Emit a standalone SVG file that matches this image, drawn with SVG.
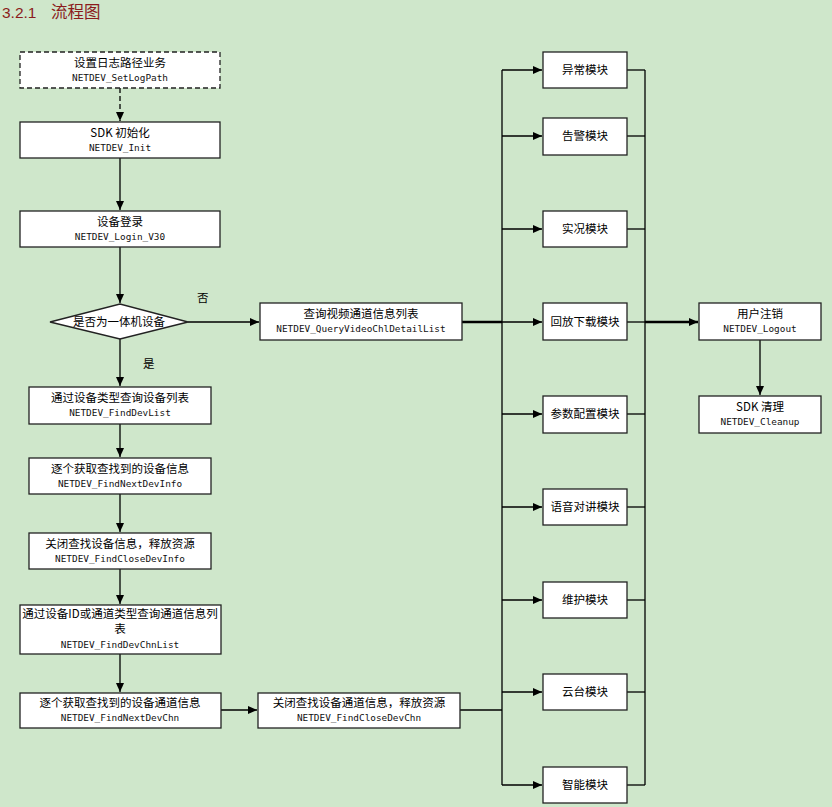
<svg xmlns="http://www.w3.org/2000/svg" width="832" height="807" viewBox="0 0 832 807">
<defs>
<marker id="ah" markerWidth="10" markerHeight="10" refX="9" refY="5" orient="auto" markerUnits="userSpaceOnUse">
<path d="M0,1 L9,5 L0,9 Z" fill="#000"/>
</marker>
<style>
.box{fill:#fff;stroke:#222;stroke-width:1.3}
.dash{stroke-dasharray:5,3}
.cn{font-family:"Noto Sans CJK SC","Noto Sans",sans-serif;font-size:11.5px;fill:#000;text-anchor:middle}
.code{font-family:"DejaVu Sans Mono","Liberation Mono",monospace;font-size:9.4px;fill:#111;text-anchor:middle}
.ln{fill:none;stroke:#000;stroke-width:1.3}
.thk{fill:none;stroke:#000;stroke-width:2.4}
.lbl{font-family:"Noto Sans CJK SC","Noto Sans",sans-serif;font-size:11.5px;fill:#000}
</style>
</defs>
<rect width="832" height="807" fill="#cfe7cb"/>
<g id="title">
<text x="2" y="18" font-family="Liberation Sans,sans-serif" font-size="15.5" fill="#8b1c1c">3.2.1</text>
<text x="51" y="18" font-family="Noto Sans CJK SC,sans-serif" font-size="16.5" fill="#8b1c1c">流程图</text>
</g>
<g id="connectors">
<line class="ln dash" x1="120" y1="88" x2="120" y2="121" marker-end="url(#ah)"/>
<line class="ln" x1="120" y1="158" x2="120" y2="210" marker-end="url(#ah)"/>
<line class="ln" x1="120" y1="247" x2="120" y2="303" marker-end="url(#ah)"/>
<line class="ln" x1="188" y1="322" x2="259" y2="322" marker-end="url(#ah)"/>
<line class="ln" x1="120" y1="339" x2="120" y2="386" marker-end="url(#ah)"/>
<line class="ln" x1="120" y1="424" x2="120" y2="457" marker-end="url(#ah)"/>
<line class="ln" x1="120" y1="494" x2="120" y2="532" marker-end="url(#ah)"/>
<line class="ln" x1="120" y1="569" x2="120" y2="604" marker-end="url(#ah)"/>
<line class="ln" x1="120" y1="654" x2="120" y2="692" marker-end="url(#ah)"/>
<line class="ln" x1="221" y1="710" x2="257" y2="710" marker-end="url(#ah)"/>
<line class="ln" x1="460" y1="710" x2="502" y2="710"/>
<line class="thk" x1="462" y1="322" x2="502" y2="322"/>
<line class="ln" x1="502" y1="70" x2="502" y2="785"/>
<line class="ln" x1="502" y1="70" x2="542" y2="70" marker-end="url(#ah)"/>
<line class="ln" x1="502" y1="136" x2="542" y2="136" marker-end="url(#ah)"/>
<line class="ln" x1="502" y1="229" x2="542" y2="229" marker-end="url(#ah)"/>
<line class="ln" x1="502" y1="322" x2="542" y2="322" marker-end="url(#ah)"/>
<line class="ln" x1="502" y1="414" x2="542" y2="414" marker-end="url(#ah)"/>
<line class="ln" x1="502" y1="507" x2="542" y2="507" marker-end="url(#ah)"/>
<line class="ln" x1="502" y1="600" x2="542" y2="600" marker-end="url(#ah)"/>
<line class="ln" x1="502" y1="692" x2="542" y2="692" marker-end="url(#ah)"/>
<line class="ln" x1="502" y1="785" x2="542" y2="785" marker-end="url(#ah)"/>
<line class="ln" x1="645" y1="70" x2="645" y2="785"/>
<line class="ln" x1="627" y1="70" x2="645" y2="70"/>
<line class="ln" x1="627" y1="136" x2="645" y2="136"/>
<line class="ln" x1="627" y1="229" x2="645" y2="229"/>
<line class="ln" x1="627" y1="322" x2="645" y2="322"/>
<line class="ln" x1="627" y1="414" x2="645" y2="414"/>
<line class="ln" x1="627" y1="507" x2="645" y2="507"/>
<line class="ln" x1="627" y1="600" x2="645" y2="600"/>
<line class="ln" x1="627" y1="692" x2="645" y2="692"/>
<line class="ln" x1="627" y1="785" x2="645" y2="785"/>
<line class="thk" x1="645" y1="322" x2="698" y2="322" marker-end="url(#ah)"/>
<line class="ln" x1="760" y1="340" x2="760" y2="395" marker-end="url(#ah)"/>
<text class="lbl" x="197" y="302">否</text>
<text class="lbl" x="143" y="368">是</text>
</g>
<g id="n-setlog"><rect class="box dash" x="20" y="52" width="200" height="36"/><text class="cn" x="120" y="67">设置日志路径业务</text><text class="code" x="120" y="81">NETDEV_SetLogPath</text></g>
<g id="n-init"><rect class="box" x="20" y="122" width="200" height="36"/><text class="cn" x="120" y="137">SDK 初始化</text><text class="code" x="120" y="151">NETDEV_Init</text></g>
<g id="n-login"><rect class="box" x="20" y="211" width="200" height="36"/><text class="cn" x="120" y="226">设备登录</text><text class="code" x="120" y="240">NETDEV_Login_V30</text></g>
<g id="n-decide"><polygon class="box" points="50,322 120,304 188,322 120,339"/><text class="cn" x="119" y="326">是否为一体机设备</text></g>
<g id="n-query"><rect class="box" x="260" y="303" width="202" height="37"/><text class="cn" x="361" y="318">查询视频通道信息列表</text><text class="code" x="361" y="332">NETDEV_QueryVideoChlDetailList</text></g>
<g id="n-finddev"><rect class="box" x="29" y="387" width="182" height="37"/><text class="cn" x="120" y="402">通过设备类型查询设备列表</text><text class="code" x="120" y="416">NETDEV_FindDevList</text></g>
<g id="n-nextdev"><rect class="box" x="29" y="458" width="182" height="36"/><text class="cn" x="120" y="473">逐个获取查找到的设备信息</text><text class="code" x="120" y="487">NETDEV_FindNextDevInfo</text></g>
<g id="n-closedev"><rect class="box" x="29" y="533" width="182" height="36"/><text class="cn" x="120" y="548">关闭查找设备信息，释放资源</text><text class="code" x="120" y="562">NETDEV_FindCloseDevInfo</text></g>
<g id="n-findchn"><rect class="box" x="20" y="605" width="201" height="49"/><text class="cn" x="120" y="618">通过设备ID或通道类型查询通道信息列</text><text class="cn" x="120" y="633">表</text><text class="code" x="120" y="648">NETDEV_FindDevChnList</text></g>
<g id="n-nextchn"><rect class="box" x="20" y="693" width="201" height="35"/><text class="cn" x="120" y="707">逐个获取查找到的设备通道信息</text><text class="code" x="120" y="721">NETDEV_FindNextDevChn</text></g>
<g id="n-closechn"><rect class="box" x="258" y="693" width="202" height="35"/><text class="cn" x="359" y="707">关闭查找设备通道信息，释放资源</text><text class="code" x="359" y="721">NETDEV_FindCloseDevChn</text></g>
<g id="m-exception"><rect class="box" x="543" y="52" width="84" height="36"/><text class="cn" x="585" y="74">异常模块</text></g>
<g id="m-alarm"><rect class="box" x="543" y="118" width="84" height="37"/><text class="cn" x="585" y="140">告警模块</text></g>
<g id="m-live"><rect class="box" x="543" y="211" width="84" height="36"/><text class="cn" x="585" y="233">实况模块</text></g>
<g id="m-playback"><rect class="box" x="543" y="303" width="84" height="37"/><text class="cn" x="585" y="326">回放下载模块</text></g>
<g id="m-config"><rect class="box" x="543" y="396" width="84" height="37"/><text class="cn" x="585" y="418">参数配置模块</text></g>
<g id="m-talk"><rect class="box" x="543" y="489" width="84" height="36"/><text class="cn" x="585" y="511">语音对讲模块</text></g>
<g id="m-maint"><rect class="box" x="543" y="582" width="84" height="36"/><text class="cn" x="585" y="604">维护模块</text></g>
<g id="m-ptz"><rect class="box" x="543" y="674" width="84" height="36"/><text class="cn" x="585" y="696">云台模块</text></g>
<g id="m-smart"><rect class="box" x="543" y="767" width="84" height="36"/><text class="cn" x="585" y="789">智能模块</text></g>
<g id="n-logout"><rect class="box" x="699" y="303" width="122" height="37"/><text class="cn" x="760" y="318">用户注销</text><text class="code" x="760" y="332">NETDEV_Logout</text></g>
<g id="n-cleanup"><rect class="box" x="699" y="396" width="122" height="37"/><text class="cn" x="760" y="411">SDK 清理</text><text class="code" x="760" y="425">NETDEV_Cleanup</text></g>
</svg>
